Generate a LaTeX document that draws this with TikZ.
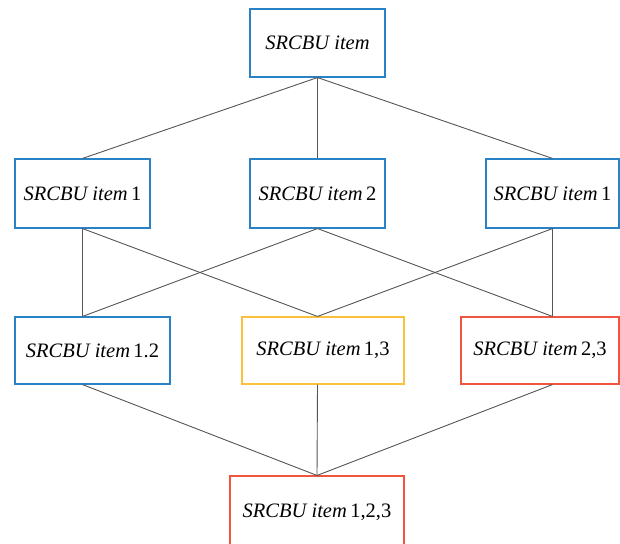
\documentclass[tikz,border=0pt]{standalone}
\usepackage{fontspec}
\setmainfont{Liberation Serif}
\definecolor{cblue}{HTML}{2A82C6}
\definecolor{cyellow}{HTML}{FBC13C}
\definecolor{cred}{HTML}{F0553F}
\definecolor{cline}{HTML}{555555}
\tikzset{
  box/.style={draw, line width=1.1pt, fill=white, inner sep=0pt, font=\fontsize{20.5}{24}\selectfont},
  bluebox/.style={box, draw=cblue},
  yellowbox/.style={box, draw=cyellow},
  redbox/.style={box, draw=cred},
  link/.style={draw=cline, line width=0.9pt}
}
\newcommand{\itm}[1]{\textit{SRCBU item}\,#1}
\begin{document}
\begin{tikzpicture}[x=1pt,y=-1pt]
\useasboundingbox (0,0) rectangle (620,543);
\node[bluebox, minimum width=135pt, minimum height=68pt] (top) at (317.5,43) {\textit{SRCBU item}};
\node[bluebox, minimum width=135pt, minimum height=69pt] (l2) at (82.5,193.5) {\itm{1}};
\node[bluebox, minimum width=135pt, minimum height=69pt] (m2) at (317.5,193.5) {\itm{2}};
\node[bluebox, minimum width=133pt, minimum height=69pt] (r2) at (552.5,193.5) {\itm{1}};
\node[bluebox, minimum width=155pt, minimum height=67pt] (l3) at (92.5,350.5) {\itm{1.2}};
\node[yellowbox, minimum width=162pt, minimum height=67pt] (y3) at (323,350.5) {\itm{1,3}};
\node[redbox, minimum width=158pt, minimum height=67pt] (r3) at (540,350.5) {\itm{2,3}};
\node[redbox, minimum width=174pt, minimum height=72pt] (b4) at (317,512) {\itm{1,2,3}};
\draw[link] (top.south) -- (l2.north);
\draw[link] (top.south) -- (m2.north);
\draw[link] (top.south) -- (r2.north);
\draw[link] (l2.south) -- (l3.north -| l2.south);
\draw[link] (l2.south) -- (y3.north -| m2.south);
\draw[link] (m2.south) -- (l3.north -| l2.south);
\draw[link] (m2.south) -- (r3.north -| r2.south);
\draw[link] (r2.south) -- (r3.north -| r2.south);
\draw[link] (r2.south) -- (y3.north -| m2.south);
\draw[link] (l3.south -| l2.south) -- (b4.north);
\draw[link] (y3.south -| m2.south) -- (b4.north);
\draw[link] (r3.south -| r2.south) -- (b4.north);
\end{tikzpicture}
\end{document}
